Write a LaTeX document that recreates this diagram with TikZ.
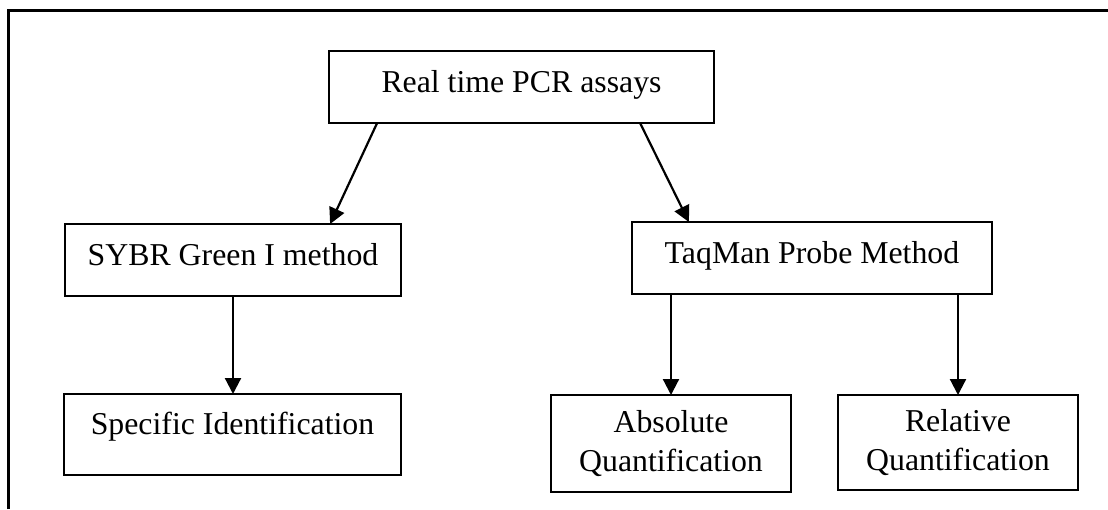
\documentclass[tikz,border=0pt]{standalone}
\usepackage{fontspec}
\setmainfont{Liberation Serif}
\usepackage{tikz}
\usetikzlibrary{arrows.meta, calc}

\begin{document}
\begin{tikzpicture}
    [x=.5pt, y=-.5pt,
     >={Triangle[length=8pt, width=8pt]},
     blk/.style={draw, line width=1pt, outer sep=0pt, inner sep=0pt,
                 align=center, text height=11pt, text depth=6pt,
                 font=\fontsize{15.9pt}{19.5pt}\selectfont},
     link/.style={->, line width=1.1pt},
    ]
    \useasboundingbox (0, 0) rectangle (1108, 509);

    % Frame
    \draw[line width=1.5pt] (8, 509) -- (8, 10) -- (1108, 10);

    % Boxes
    \node[blk, minimum width=192.5pt, minimum height=36pt]
        (pcr) at (521.5, 87) {Real time PCR assays};
    \node[blk, minimum width=168pt, minimum height=36pt]
        (sybr) at (233, 260) {SYBR Green I method};
    \node[blk, minimum width=180pt, minimum height=36pt]
        (taqman) at (812, 258) {TaqMan Probe Method};
    \node[blk, minimum width=168.5pt, minimum height=40.5pt,
          text height=8pt, text depth=8pt]
        (spec) at (232.5, 434.5) {Specific Identification};
    \node[blk, minimum width=120pt, minimum height=48.5pt,
          text height=, text depth=]
        (abs) at (671, 443.5) {Absolute\\Quantification};
    \node[blk, minimum width=120pt, minimum height=47.5pt,
          text height=, text depth=]
        (rel) at (958, 442.5) {Relative\\Quantification};

    % Arrows
    \draw[link] ($ (pcr.south west)!.125!(pcr.south east) $)
        -- ($ (sybr.north west)!.789!(sybr.north east) $);
    \draw[link] ($ (pcr.south west)!.808!(pcr.south east) $)
        -- ($ (taqman.north west)!.158!(taqman.north east) $);
    \draw[link] (sybr.south) -- (sybr.south |- spec.north);
    \foreach \dst in {abs, rel} {
        \draw[link] (\dst.north |- taqman.south) -- (\dst.north);
    }
\end{tikzpicture}
\end{document}
